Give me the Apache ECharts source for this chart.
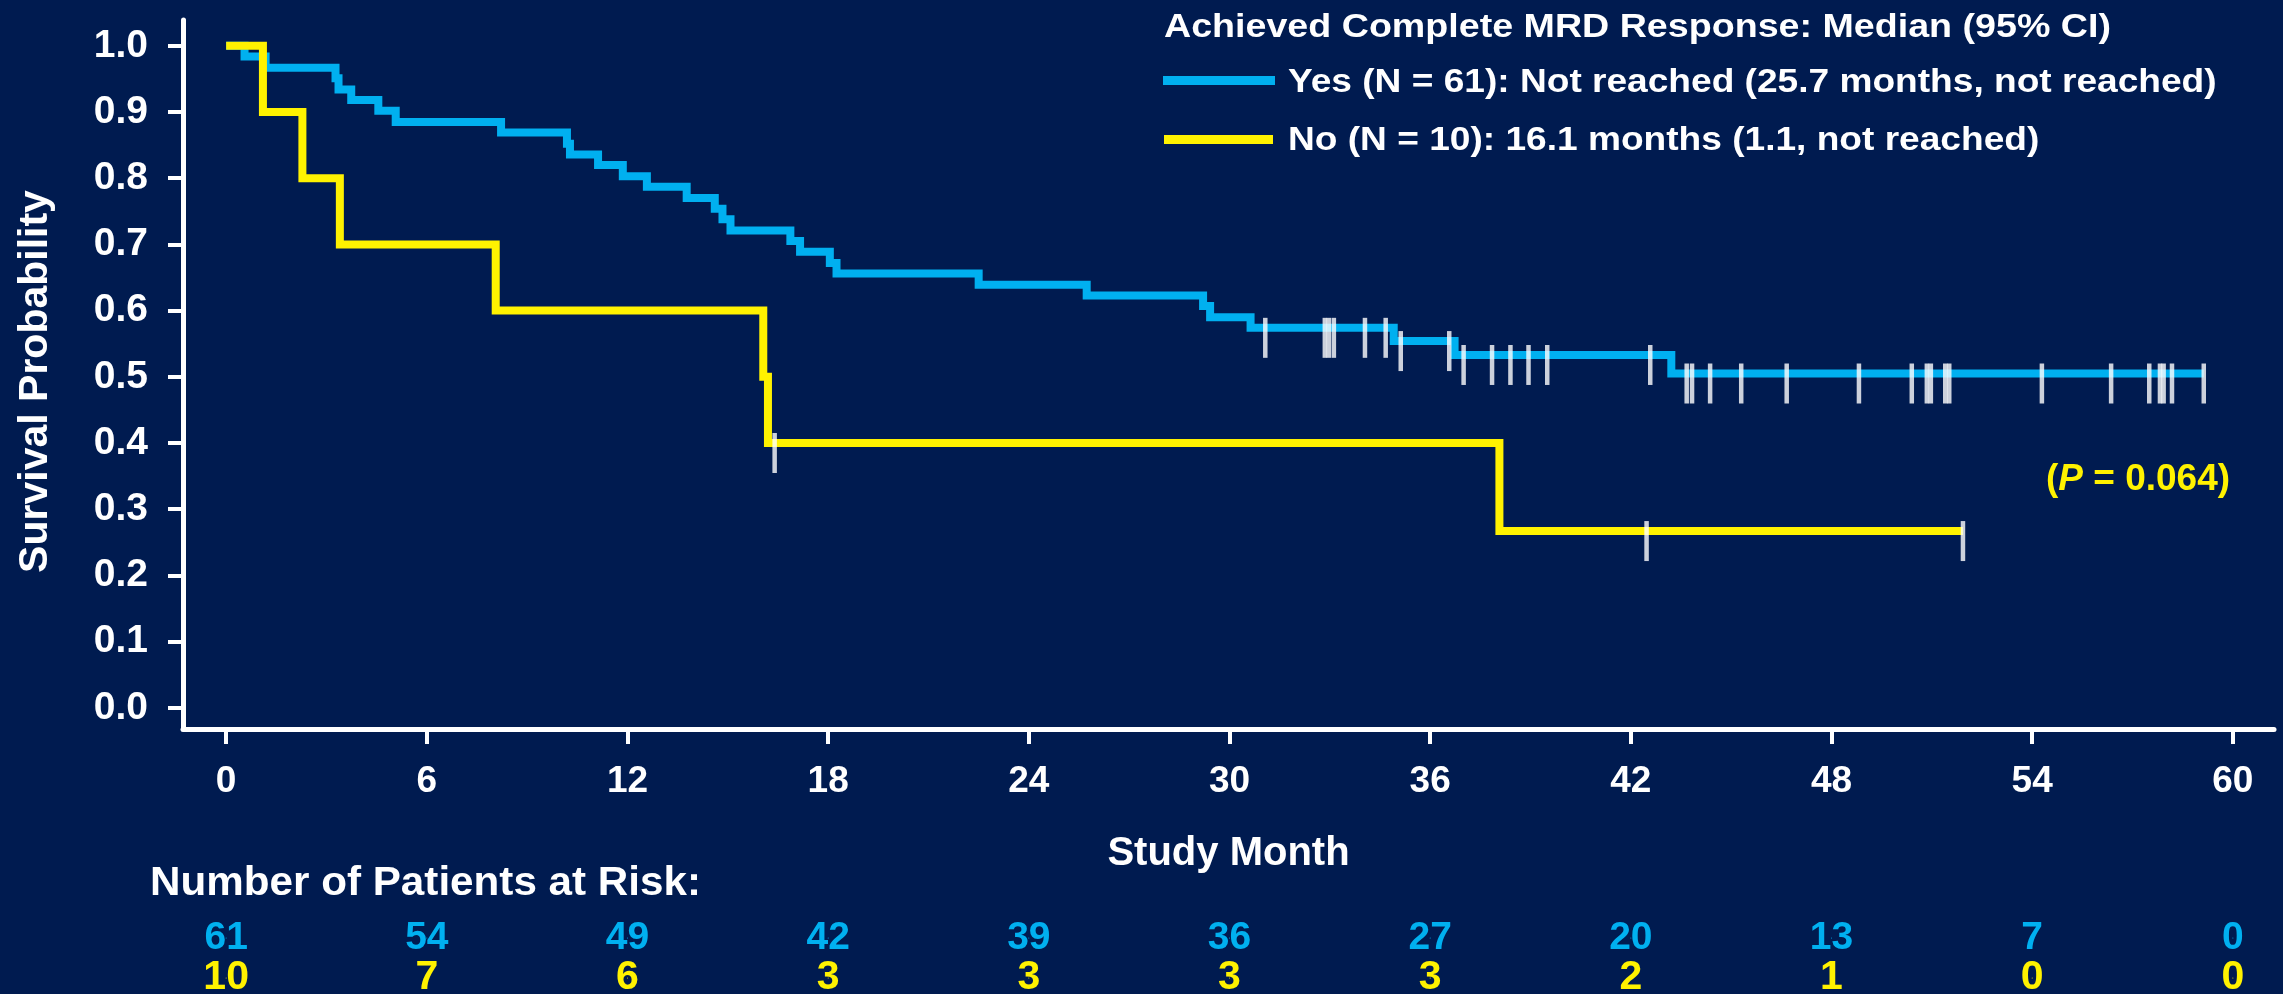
<!DOCTYPE html>
<html>
<head>
<meta charset="utf-8">
<style>
html, body { margin: 0; padding: 0; background: #001B50; }
#chart { width: 2283px; height: 994px; }
</style>
<script src="https://cdn.jsdelivr.net/npm/echarts@6.0.0/dist/echarts.min.js"></script>
</head>
<body>
<div id="chart"></div>
<script>
var myChart = echarts.init(document.getElementById('chart'));

// 坐标轴刻度
var monthTicks = [0, 6, 12, 18, 24, 30, 36, 42, 48, 54, 60];
var probTicks = [0, 0.1, 0.2, 0.3, 0.4, 0.5, 0.6, 0.7, 0.8, 0.9, 1.0];

// Yes 组: 每一步的时间(月) 和之后的生存率
var yesTimes = [0, 0.55, 1.18, 3.27, 3.36, 3.74, 4.55, 5.07, 8.22, 10.19, 10.28, 11.12, 11.86, 12.58, 13.77,
    14.61, 14.84, 15.08, 16.87, 17.16, 18.05, 18.25, 22.5, 25.73, 29.21, 29.42, 30.63, 34.91, 36.73, 43.21];
var yesLevels = [1.0, 0.984, 0.967, 0.951, 0.934, 0.918, 0.902, 0.885, 0.869, 0.852, 0.836, 0.820, 0.803, 0.787, 0.770,
    0.754, 0.738, 0.721, 0.705, 0.689, 0.672, 0.656, 0.639, 0.623, 0.607, 0.590, 0.574, 0.554, 0.533, 0.505];
// 删失时间
var yesCensor = [31.07, 32.85, 32.97, 33.12, 34.05, 34.67, 35.12, 36.57, 37.0, 37.85, 38.4, 38.94, 39.5,
    42.58, 43.67, 43.83, 44.37, 45.3, 46.66, 48.82, 50.4, 50.85, 50.97, 51.4, 51.52,
    54.29, 56.36, 57.5, 57.82, 57.93, 58.18, 59.13];

// No 组
var noTimes = [0, 1.1, 2.28, 3.4, 8.06, 16.06, 16.2, 38.07];
var noLevels = [1.0, 0.9, 0.8, 0.7, 0.6, 0.5, 0.4, 0.267];
var noCensor = [16.4, 42.47, 51.93];

// 风险人数
var riskYes = [61, 54, 49, 42, 39, 36, 27, 20, 13, 7, 0];
var riskNo = [10, 7, 6, 3, 3, 3, 3, 2, 1, 0, 0];

var yesName = 'Yes (N = 61): Not reached (25.7 months, not reached)';
var noName = 'No (N = 10): 16.1 months (1.1, not reached)';

var font = '"Liberation Sans", Arial, sans-serif';
var blue = '#00B0F0';
var yellow = '#FFF200';

function levelAt(times, levels, t) {
    var v = levels[0];
    for (var i = 0; i < times.length; i++) {
        if (times[i] <= t) v = levels[i];
    }
    return v;
}

function stepData(times, levels, censor) {
    var d = times.map(function (t, i) { return [t, levels[i]]; });
    var last = censor[censor.length - 1];
    d.push([last, levelAt(times, levels, last)]);
    return d;
}

function censorData(times, levels, censor) {
    return censor.map(function (t) { return [t, levelAt(times, levels, t)]; });
}

function riskData(row, arr) {
    return monthTicks.map(function (m, i) { return [m, row, arr[i]]; });
}

// 文字稍微横向拉宽, 和原图一致
function wideText(str, x, y, size, sx, color, valign) {
    return {
        type: 'text', x: x, y: y, scaleX: sx, silent: true,
        style: {
            text: str, fill: color, fontSize: size, fontWeight: 'bold', fontFamily: font,
            align: 'left', verticalAlign: valign
        }
    };
}

function riskSeries(row, arr, color, size) {
    return {
        type: 'scatter', xAxisIndex: 1, yAxisIndex: 1,
        data: riskData(row, arr),
        symbolSize: 1, itemStyle: { color: color, opacity: 1 }, silent: true,
        label: {
            show: true, position: 'inside', color: color, opacity: 1,
            textBorderWidth: 0, fontSize: size, fontWeight: 'bold', fontFamily: font,
            formatter: function (p) { return p.value[2]; }
        }
    };
}

option = {
    backgroundColor: '#001B50',
    animation: false,
    textStyle: { fontFamily: font },
    title: [
        {
            text: '({i|P} = 0.064)',
            left: 2046, top: 461, padding: 0,
            textStyle: {
                color: yellow, fontSize: 37, fontWeight: 'bold', fontFamily: font,
                rich: {
                    i: { color: yellow, fontSize: 37, fontWeight: 'bold', fontStyle: 'italic', fontFamily: font }
                }
            }
        }
    ],
    graphic: [
        wideText('Achieved Complete MRD Response: Median (95% CI)', 1164, 11, 33, 1.14, '#fff', 'top'),
        { type: 'rect', shape: { x: 1163, y: 76, width: 112, height: 9 }, style: { fill: blue }, silent: true },
        wideText(yesName, 1288, 83, 33, 1.124, '#fff', 'middle'),
        { type: 'rect', shape: { x: 1164, y: 135, width: 109, height: 9 }, style: { fill: yellow }, silent: true },
        wideText(noName, 1288, 141, 33, 1.124, '#fff', 'middle'),
        wideText('Number of Patients at Risk:', 150, 864, 40, 1.055, '#fff', 'top')
    ],
    grid: [
        { left: 183, right: 9, top: 20, bottom: 265, outerBoundsMode: 'none' },
        { left: 183, right: 9, top: 918, height: 80, outerBoundsMode: 'none' }
    ],
    xAxis: [
        {
            type: 'value', gridIndex: 0,
            min: -1.29, max: 61.23,
            name: 'Study Month', nameLocation: 'middle', nameGap: 105,
            nameTextStyle: { color: '#fff', fontSize: 40, fontWeight: 'bold', fontFamily: font },
            splitLine: { show: false },
            axisLine: { show: true, onZero: false, lineStyle: { color: '#fff', width: 5 } },
            axisTick: { show: true, customValues: monthTicks, length: 15, lineStyle: { color: '#fff', width: 4 } },
            axisLabel: { customValues: monthTicks, margin: 34, color: '#fff', fontSize: 37, fontWeight: 'bold', fontFamily: font }
        },
        { type: 'value', gridIndex: 1, min: -1.29, max: 61.23, show: false }
    ],
    yAxis: [
        {
            type: 'value', gridIndex: 0,
            min: -0.032, max: 1.039,
            name: 'Survival Probability', nameLocation: 'middle', nameGap: 127,
            nameTextStyle: { color: '#fff', fontSize: 41, fontWeight: 'bold', fontFamily: font, padding: [0, 14, 0, 0] },
            splitLine: { show: false },
            axisLine: { show: true, onZero: false, lineStyle: { color: '#fff', width: 5 } },
            axisTick: { show: true, customValues: probTicks, length: 15, lineStyle: { color: '#fff', width: 4 } },
            axisLabel: {
                customValues: probTicks, margin: 35, color: '#fff', fontSize: 39, fontWeight: 'bold', fontFamily: font,
                padding: [14, 0, 0, 0],
                formatter: function (v) { return v.toFixed(1); }
            }
        },
        { type: 'category', gridIndex: 1, data: ['Yes', 'No'], inverse: true, show: false }
    ],
    series: [
        {
            name: yesName, type: 'line', step: 'end',
            data: stepData(yesTimes, yesLevels, yesCensor),
            showSymbol: false, symbol: 'none',
            lineStyle: { color: blue, width: 8, join: 'miter' },
            itemStyle: { color: blue },
            z: 2
        },
        {
            name: noName, type: 'line', step: 'end',
            data: stepData(noTimes, noLevels, noCensor),
            showSymbol: false, symbol: 'none',
            lineStyle: { color: yellow, width: 8, join: 'miter' },
            itemStyle: { color: yellow },
            z: 3
        },
        {
            type: 'scatter', name: 'yesCensor',
            data: censorData(yesTimes, yesLevels, yesCensor),
            symbol: 'rect', symbolSize: [4.5, 40], symbolOffset: [0, 10],
            itemStyle: { color: '#fff' }, z: 5, silent: true
        },
        {
            type: 'scatter', name: 'noCensor',
            data: censorData(noTimes, noLevels, noCensor),
            symbol: 'rect', symbolSize: [4.5, 40], symbolOffset: [0, 10],
            itemStyle: { color: '#fff' }, z: 5, silent: true
        },
        riskSeries('Yes', riskYes, blue, 39),
        riskSeries('No', riskNo, yellow, 41)
    ]
};

myChart.setOption(option);
</script>
</body>
</html>
